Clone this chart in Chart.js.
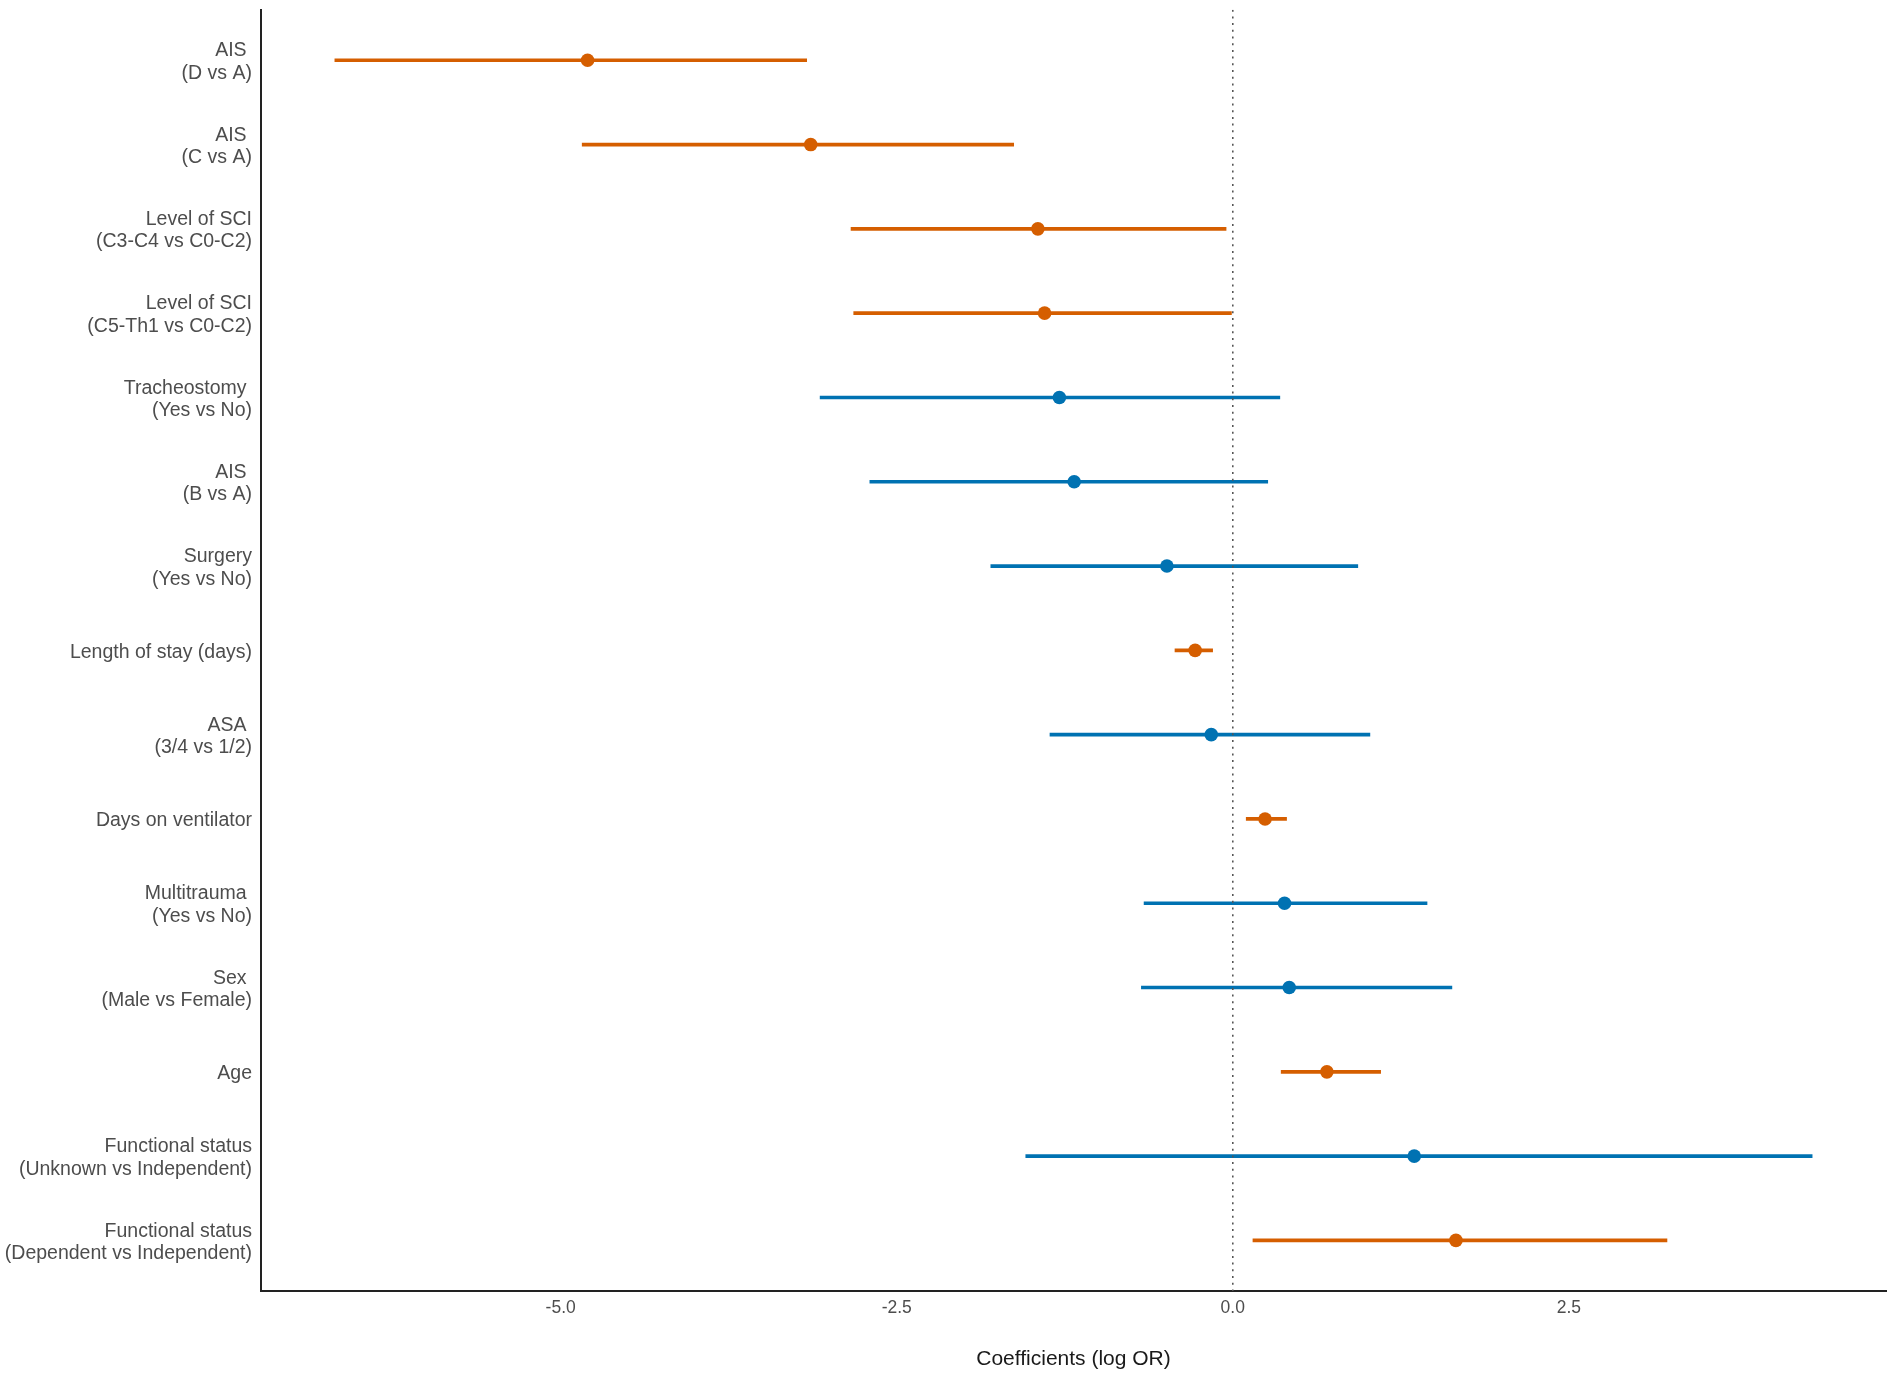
<!DOCTYPE html>
<html>
<head>
<meta charset="utf-8">
<script src="https://cdn.jsdelivr.net/npm/chart.js@4.4.1/dist/chart.umd.min.js"></script>
<style>
  html, body { margin: 0; padding: 0; background: #ffffff; }
  #wrap { width: 1902px; height: 1380px; }
</style>
</head>
<body>
<div id="wrap"><canvas id="c" width="1902" height="1380"></canvas></div>
<script>
// ---- data ----
const labels = [
  "AIS \n(D vs A)",
  "AIS \n(C vs A)",
  "Level of SCI\n(C3-C4 vs C0-C2)",
  "Level of SCI\n(C5-Th1 vs C0-C2)",
  "Tracheostomy \n(Yes vs No)",
  "AIS \n(B vs A)",
  "Surgery\n(Yes vs No)",
  "Length of stay (days)",
  "ASA \n(3/4 vs 1/2)",
  "Days on ventilator",
  "Multitrauma \n(Yes vs No)",
  "Sex \n(Male vs Female)",
  "Age",
  "Functional status\n(Unknown vs Independent)",
  "Functional status\n(Dependent vs Independent)"
];
const estimate = [-4.80, -3.14, -1.45, -1.40, -1.29, -1.18, -0.49, -0.28, -0.16, 0.24, 0.385, 0.42, 0.70, 1.35, 1.66];
const lower    = [-6.68, -4.84, -2.84, -2.82, -3.07, -2.70, -1.80, -0.43, -1.36, 0.10, -0.66, -0.68, 0.36, -1.54, 0.15];
const upper    = [-3.17, -1.63, -0.05, -0.01, 0.35, 0.26, 0.93, -0.15, 1.02, 0.40, 1.445, 1.63, 1.10, 4.31, 3.23];
const significant = [true, true, true, true, false, false, false, true, false, true, false, false, true, false, true];
const xTicks = [-5, -2.5, 0, 2.5];
const refValue = 0;

// ---- styling ----
const ORANGE = '#D55E00';
const BLUE = '#0072B2';
const FONT = "'Liberation Sans', Arial, Helvetica, sans-serif";
const colors = significant.map(s => s ? ORANGE : BLUE);

const n = labels.length;
const rowPos = labels.map((_, i) => i + 1);
const lo = Math.min(...lower), hi = Math.max(...upper);
const xMin = lo - 0.05 * (hi - lo);
const xMax = hi + 0.05 * (hi - lo);
const yMin = 0.4, yMax = n + 0.6;

function noEdgePadding(s) {
  s.paddingTop = 0; s.paddingBottom = 0; s.paddingLeft = 0; s.paddingRight = 0;
}

new Chart(document.getElementById('c'), {
  type: 'bar',
  data: {
    datasets: [
      {
        type: 'line',
        label: 'reference',
        data: [{ x: refValue, y: yMin }, { x: refValue, y: yMax }],
        borderColor: '#555555',
        borderWidth: 1.6,
        borderDash: [2, 4.7],
        pointRadius: 0,
        fill: false,
        order: 1
      },
      {
        type: 'bar',
        label: 'CI',
        indexAxis: 'y',
        data: rowPos.map((p, i) => ({ y: p, x: [lower[i], upper[i]] })),
        backgroundColor: colors,
        borderWidth: 0,
        barThickness: 3,
        order: 3
      },
      {
        type: 'scatter',
        label: 'Estimate',
        data: rowPos.map((p, i) => ({ x: estimate[i], y: p })),
        pointBackgroundColor: colors,
        pointBorderWidth: 0,
        pointRadius: 6.8,
        pointHoverRadius: 6.8,
        order: 0
      }
    ]
  },
  options: {
    responsive: false,
    animation: false,
    layout: { padding: { left: 0, top: 9.7, right: 16, bottom: 0 } },
    plugins: { legend: { display: false }, tooltip: { enabled: false } },
    scales: {
      x: {
        type: 'linear',
        position: 'bottom',
        offset: false,
        min: xMin,
        max: xMax,
        grid: { display: false, drawTicks: false, offset: false },
        border: { display: true, color: '#222222', width: 2 },
        afterBuildTicks: s => { s.ticks = xTicks.map(v => ({ value: v })); },
        afterFit: s => { s.height = 89; noEdgePadding(s); },
        ticks: {
          autoSkip: false,
          padding: 7,
          color: '#4D4D4D',
          font: { family: FONT, size: 17.5 },
          callback: v => Number(v).toFixed(1)
        },
        title: {
          display: true,
          text: 'Coefficients (log OR)',
          color: '#1a1a1a',
          font: { family: FONT, size: 21 },
          padding: { top: 0, bottom: 8.5 }
        }
      },
      y: {
        type: 'linear',
        position: 'left',
        offset: false,
        reverse: true,
        min: yMin,
        max: yMax,
        grid: { display: false, drawTicks: false, offset: false },
        border: { display: true, color: '#222222', width: 2 },
        afterBuildTicks: s => { s.ticks = rowPos.map(v => ({ value: v })); },
        afterFit: s => { s.width = 261; noEdgePadding(s); },
        ticks: {
          autoSkip: false,
          padding: 9,
          labelOffset: 2,
          color: '#4D4D4D',
          font: { family: FONT, size: 19.5, lineHeight: 1.15 },
          callback: v => labels[Math.round(v) - 1].split('\n')
        }
      }
    }
  }
});
</script>
</body>
</html>
